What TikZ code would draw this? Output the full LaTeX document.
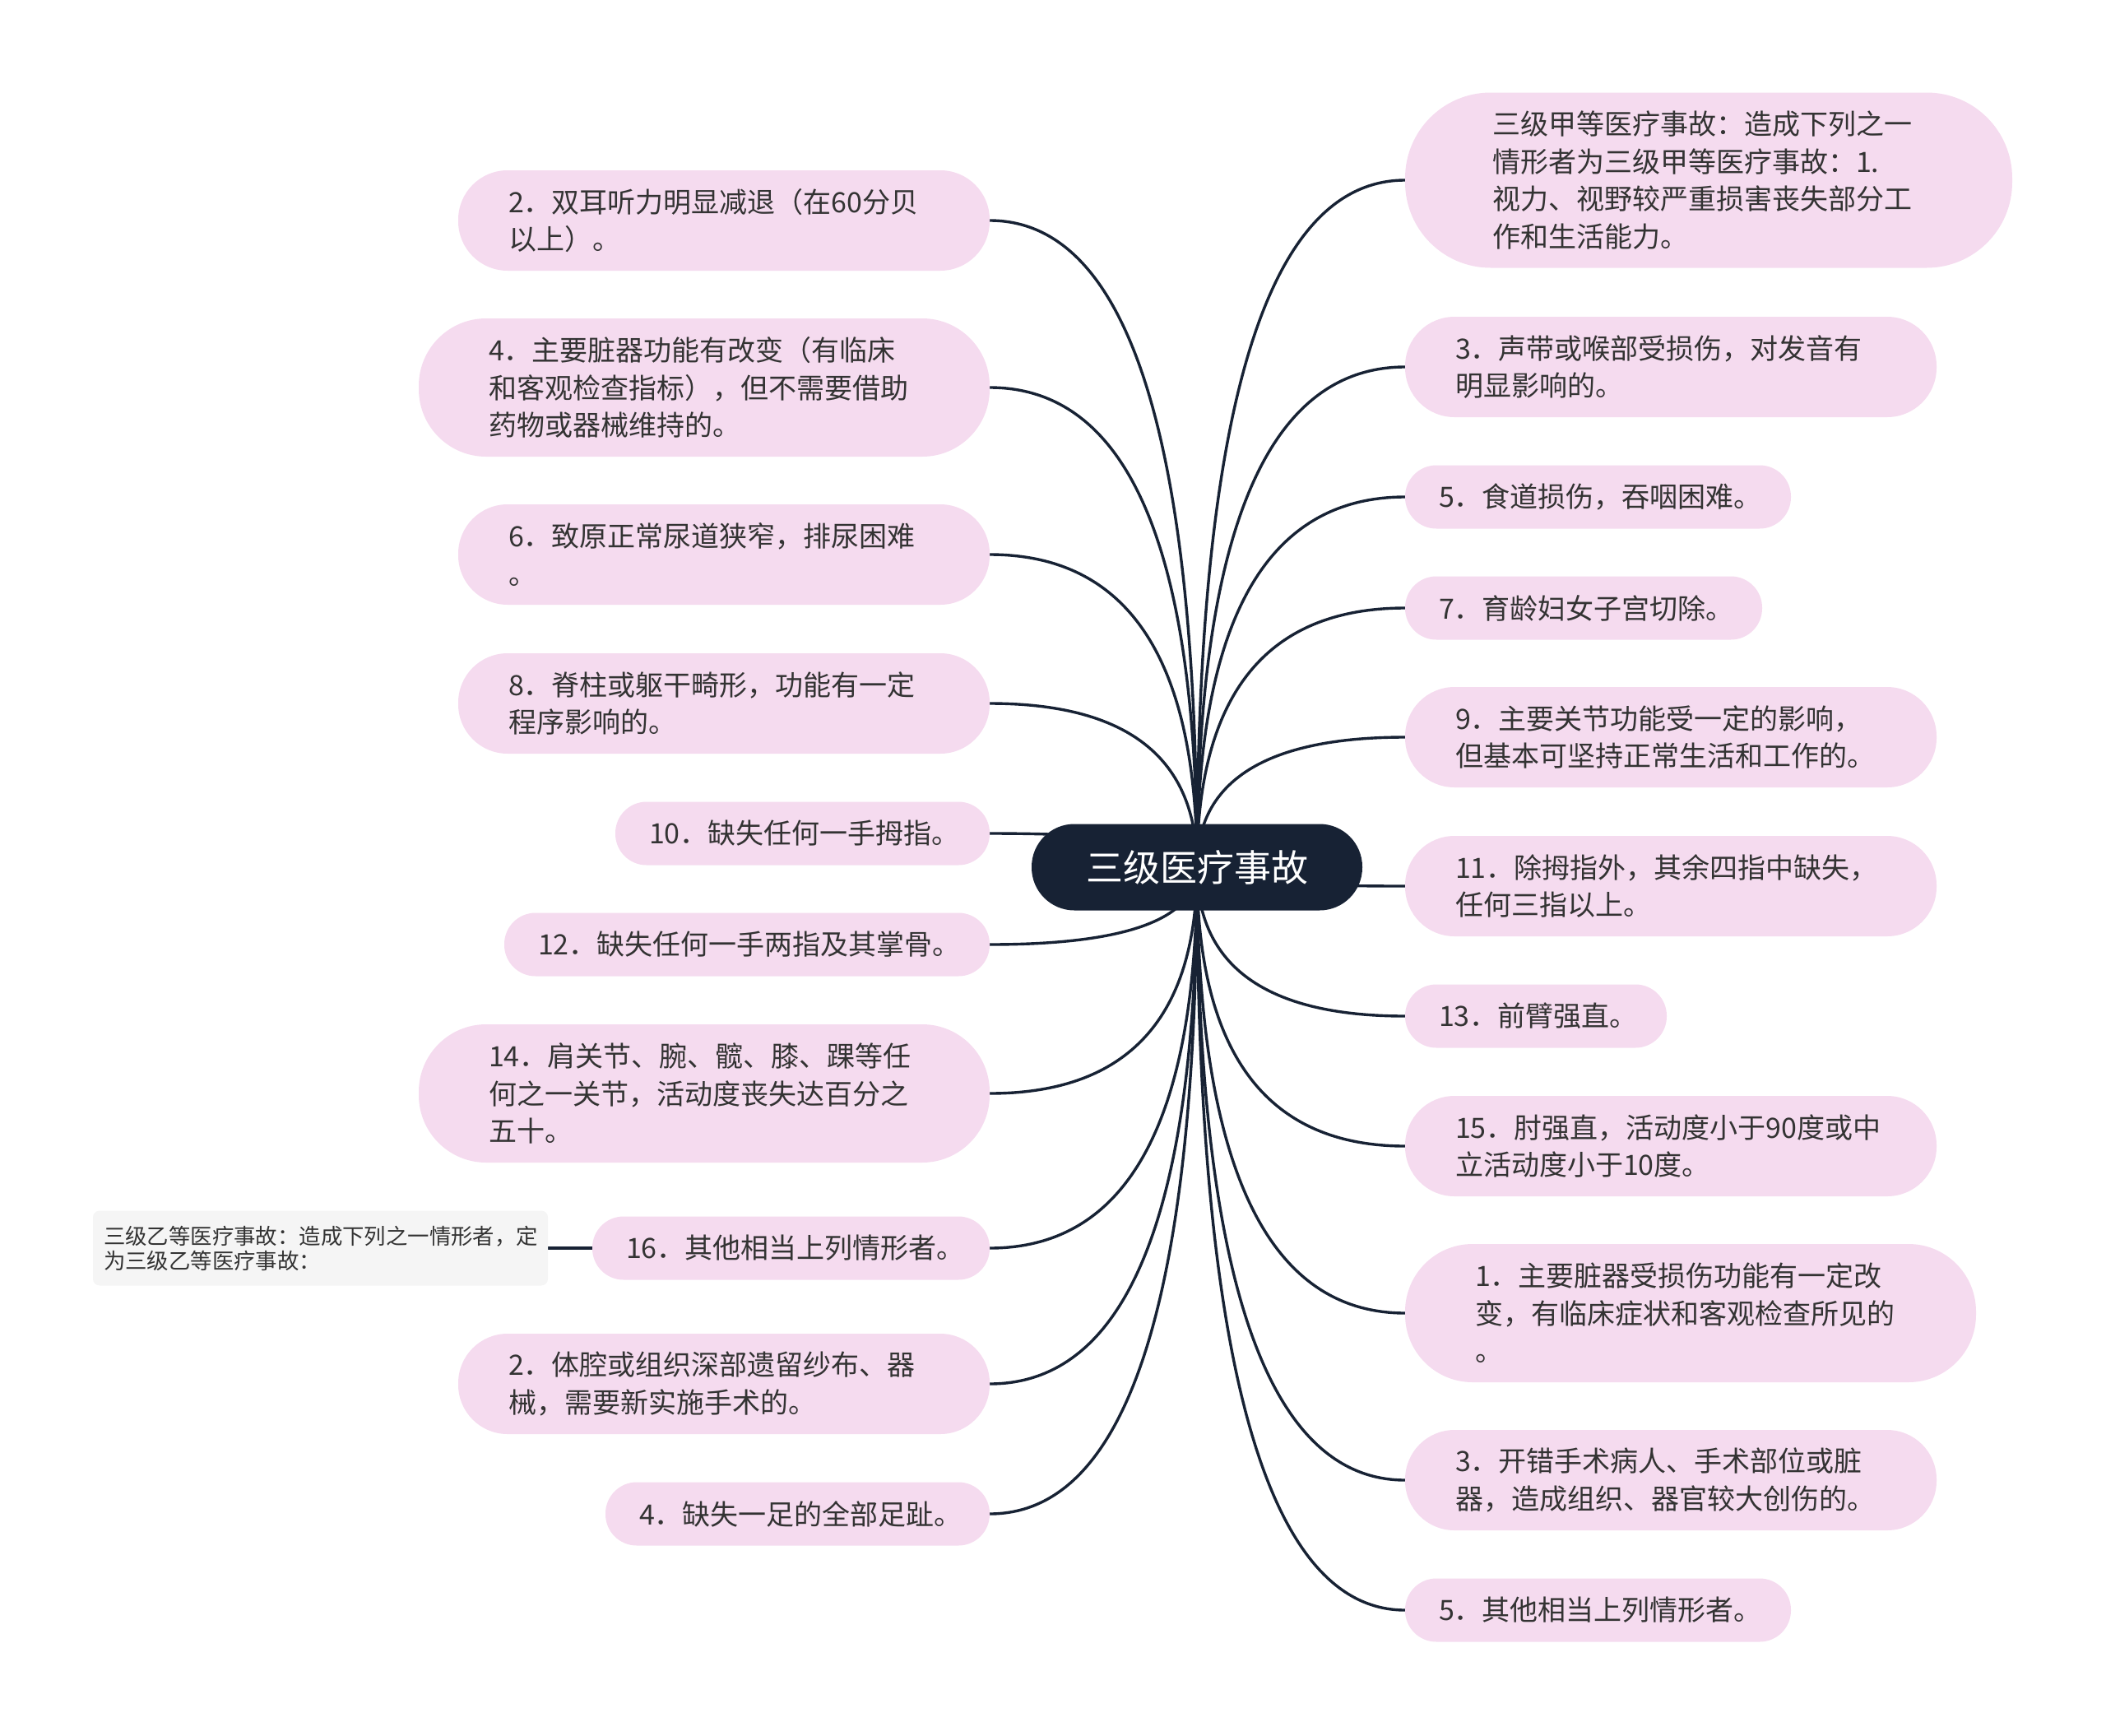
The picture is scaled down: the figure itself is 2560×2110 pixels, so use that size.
\documentclass[tikz,border=0pt]{standalone}
\usepackage{fontspec}
\setmainfont{Noto Sans CJK SC}
\usepackage{xcolor}
\usepackage{tikz}
\usetikzlibrary{positioning,calc,backgrounds}

\definecolor{navy}{HTML}{172234}
\definecolor{pinkbox}{HTML}{F5DBEF}
\definecolor{greybox}{HTML}{F5F5F5}
\definecolor{ink}{HTML}{333333}

\begin{document}
\begin{tikzpicture}[x=0.5pt, y=-0.5pt,
    leaf/.style={fill=pinkbox, text=ink, align=left, outer sep=0pt, inner ysep=0pt,
        font=\fontsize{17pt}{22.75pt}\selectfont},
    leafone/.style={leaf, minimum height=38.5pt, rounded corners=19pt, inner xsep=20.5pt},
    leaftwo/.style={leaf, minimum height=61pt, rounded corners=30pt, inner xsep=30.5pt, text width=262pt},
    leafthree/.style={leaf, minimum height=84pt, rounded corners=41pt, inner xsep=42.5pt, text width=262pt},
    leaffour/.style={leaf, minimum height=106.5pt, rounded corners=52pt, inner xsep=53pt, text width=263pt},
    note/.style={fill=greybox, text=ink, align=left, outer sep=0pt, rounded corners=4pt,
        minimum height=45.5pt, inner xsep=6.5pt, text width=263.5pt,
        font=\fontsize{13.2pt}{15pt}\selectfont},
    link/.style={draw=navy, line width=1.7pt},
    branch/.style={to path={.. controls ($(\tikztostart)!2/3!(\tikztostart |- \tikztotarget)$)
        and ($(\tikztotarget)!2/3!(\tikztostart |- \tikztotarget)$) .. (\tikztotarget)}}
]
    \useasboundingbox (0,0) rectangle (2560,2110);

    % centre
    \node[fill=navy, text=white, rounded corners=26pt, minimum width=201pt, minimum height=52.5pt,
        font=\fontsize{22.5pt}{27pt}\selectfont] (root) at (1455,1054) {三级医疗事故};

    % left side
    \node[leaftwo, anchor=east] (l1) at (1203,268) {2．双耳听力明显减退（在60分贝\\以上）。};
    \node[leafthree, anchor=east] (l2) at (1203,471) {4．主要脏器功能有改变（有临床\\和客观检查指标），但不需要借助\\药物或器械维持的。};
    \node[leaftwo, anchor=east] (l3) at (1203,674) {6．致原正常尿道狭窄，排尿困难\\。};
    \node[leaftwo, anchor=east] (l4) at (1203,855) {8．脊柱或躯干畸形，功能有一定\\程序影响的。};
    \node[leafone, text width=186.5pt, anchor=east] (l5) at (1203,1013) {10．缺失任何一手拇指。};
    \node[leafone, text width=254pt, anchor=east] (l6) at (1203,1148) {12．缺失任何一手两指及其掌骨。};
    \node[leafthree, anchor=east] (l7) at (1203,1329) {14．肩关节、腕、髋、膝、踝等任\\何之一关节，活动度丧失达百分之\\五十。};
    \node[leafone, text width=200.5pt, anchor=east] (l8) at (1203,1517) {16．其他相当上列情形者。};
    \node[leaftwo, anchor=east] (l9) at (1203,1682) {2．体腔或组织深部遗留纱布、器\\械，需要新实施手术的。};
    \node[leafone, text width=192.5pt, anchor=east] (l10) at (1203,1840) {4．缺失一足的全部足趾。};

    \node[note, anchor=east] (grade) at (666,1517) {三级乙等医疗事故：造成下列之一情形者，定\\为三级乙等医疗事故：};

    % right side
    \node[leaffour, anchor=west] (r1) at (1708,219) {三级甲等医疗事故：造成下列之一\\情形者为三级甲等医疗事故：1.\\视力、视野较严重损害丧失部分工\\作和生活能力。};
    \node[leaftwo, anchor=west] (r2) at (1708,446) {3．声带或喉部受损伤，对发音有\\明显影响的。};
    \node[leafone, text width=193.5pt, anchor=west] (r3) at (1708,604) {5．食道损伤，吞咽困难。};
    \node[leafone, text width=176pt, anchor=west] (r4) at (1708,739) {7．育龄妇女子宫切除。};
    \node[leaftwo, anchor=west] (r5) at (1708,896) {9．主要关节功能受一定的影响，\\但基本可坚持正常生活和工作的。};
    \node[leaftwo, anchor=west] (r6) at (1708,1077) {11．除拇指外，其余四指中缺失，\\任何三指以上。};
    \node[leafone, text width=118pt, anchor=west] (r7) at (1708,1235) {13．前臂强直。};
    \node[leaftwo, anchor=west] (r8) at (1708,1393) {15．肘强直，活动度小于90度或中\\立活动度小于10度。};
    \node[leafthree, anchor=west] (r9) at (1708,1596) {1．主要脏器受损伤功能有一定改\\变，有临床症状和客观检查所见的\\。};
    \node[leaftwo, anchor=west] (r10) at (1708,1799) {3．开错手术病人、手术部位或脏\\器，造成组织、器官较大创伤的。};
    \node[leafone, text width=193.5pt, anchor=west] (r11) at (1708,1957) {5．其他相当上列情形者。};

    \begin{scope}[on background layer]
        \foreach \n in {l1,l2,l3,l4,l5,l6,l7,l8,l9,l10}
            \draw[link] (root.center) to[branch] (\n.east);
        \foreach \n in {r1,r2,r3,r4,r5,r6,r7,r8,r9,r10,r11}
            \draw[link] (root.center) to[branch] (\n.west);
        \draw[link] (l8.west) -- (grade.east);
    \end{scope}
\end{tikzpicture}
\end{document}
